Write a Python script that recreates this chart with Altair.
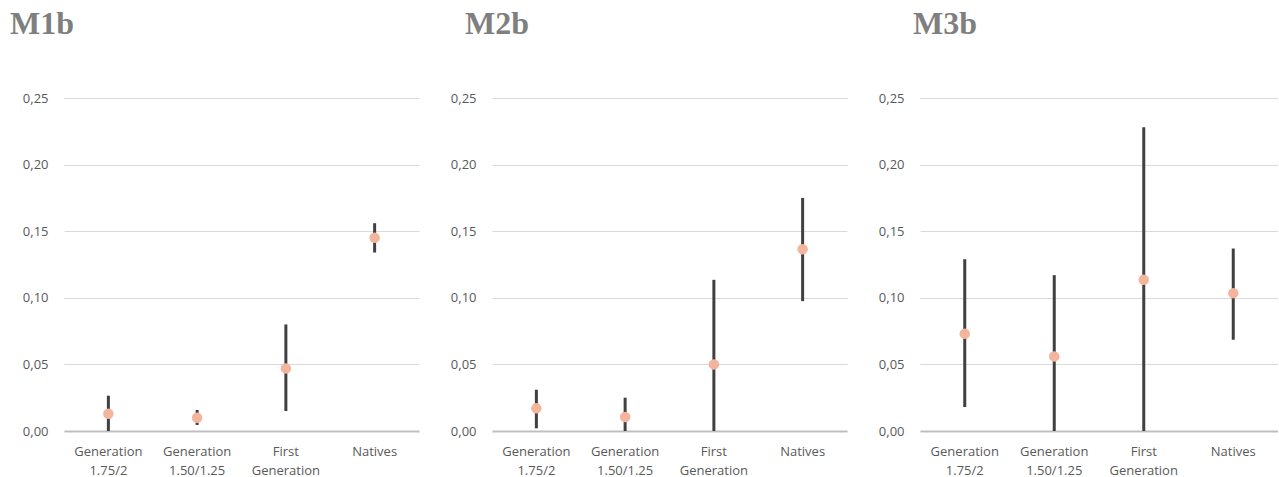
import altair as alt
import pandas as pd

categories = ["Generation 1.75/2", "Generation 1.50/1.25", "First Generation", "Natives"]
panels = ["M1b", "M2b", "M3b"]

m1_est = [0.013, 0.010, 0.047, 0.145]
m1_lo = [0.000, 0.0045, 0.015, 0.134]
m1_hi = [0.0265, 0.0158, 0.080, 0.156]

m2_est = [0.017, 0.0105, 0.050, 0.1365]
m2_lo = [0.002, 0.000, 0.000, 0.0975]
m2_hi = [0.031, 0.025, 0.1135, 0.175]

m3_est = [0.073, 0.056, 0.1135, 0.1035]
m3_lo = [0.018, 0.000, 0.000, 0.0685]
m3_hi = [0.129, 0.117, 0.228, 0.137]

y_ticks = [0.0, 0.05, 0.10, 0.15, 0.20, 0.25]

series = [(m1_est, m1_lo, m1_hi), (m2_est, m2_lo, m2_hi), (m3_est, m3_lo, m3_hi)]
widths = [355, 355, 358]
title_dx = [-54, -27, -7]


def panel(name, est, lo, hi, w, dx):
    df = pd.DataFrame({"cat": categories, "est": est, "lo": lo, "hi": hi})
    x = alt.X("cat:N", sort=categories, title=None,
              scale=alt.Scale(paddingInner=0, paddingOuter=0),
              axis=alt.Axis(labelAngle=0, ticks=False, domainColor="#bfbfbf",
                            domainWidth=2, labelPadding=14, labelLineHeight=19,
                            labelExpr="split(datum.label, ' ')",
                            labelFont="Open Sans", labelFontSize=13,
                            labelColor="#595959", grid=False))
    yax = alt.Axis(values=y_ticks, ticks=False, domain=False, grid=True,
                   gridColor="#d9d9d9", gridWidth=1, labelPadding=16,
                   labelExpr="replace(format(datum.value, '.2f'), '.', ',')",
                   labelFont="Open Sans", labelFontSize=13, labelColor="#595959")
    base = alt.Chart(df)
    rules = base.mark_rule(color="#404040", strokeWidth=3).encode(
        x=x,
        y=alt.Y("lo:Q", scale=alt.Scale(domain=[0, 0.25], nice=False), axis=yax, title=None),
        y2="hi:Q",
    )
    pts = base.mark_circle(color="#f4b59e", opacity=1, size=110).encode(
        x=x, y=alt.Y("est:Q")
    )
    return alt.layer(rules, pts).properties(
        width=w, height=333,
        title=alt.TitleParams(name, anchor="start", frame="group", dx=dx,
                              font="Liberation Serif", fontSize=32, fontWeight="bold",
                              color="#7f7f7f", baseline="alphabetic", offset=26),
    )


charts = [panel(n, *s, w, d) for n, s, w, d in zip(panels, series, widths, title_dx)]
chart = alt.hconcat(*charts, spacing=31).properties(
    padding={"left": 10, "top": 8, "right": 0, "bottom": 0}
).configure_view(stroke=None)

chart.save("out.html", embed_options={"renderer": "svg", "actions": False})
